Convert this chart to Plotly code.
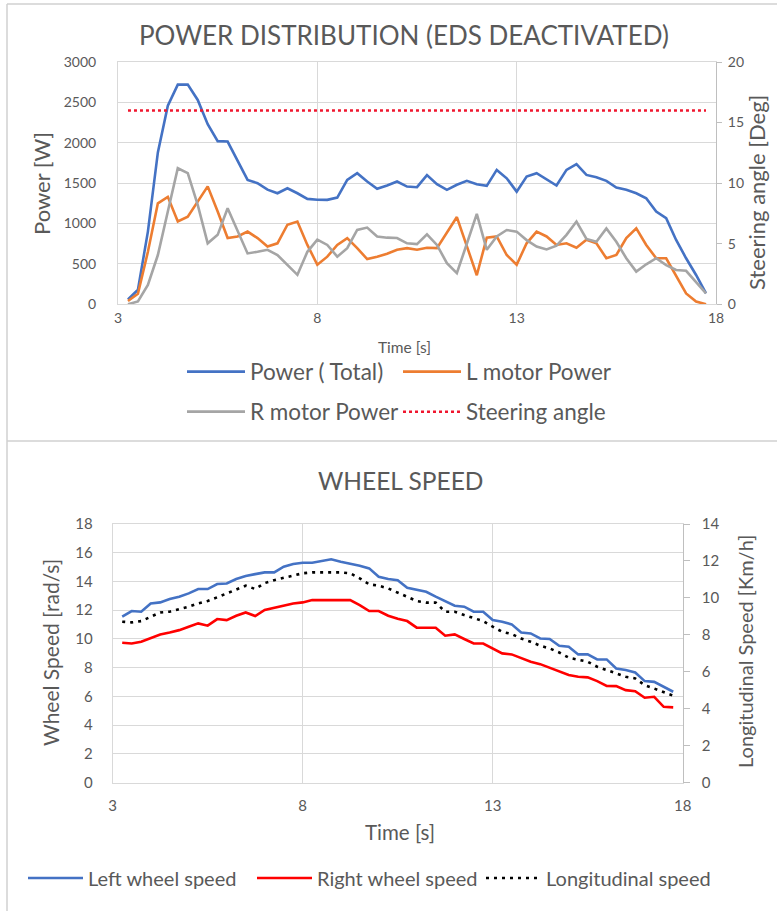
import plotly.graph_objects as go

# ---------------- data ----------------
time_s = [3.25, 3.5, 3.75, 4.0, 4.25, 4.5, 4.75, 5.0, 5.25, 5.5, 5.75, 6.0, 6.25, 6.5, 6.75, 7.0,
          7.25, 7.5, 7.75, 8.0, 8.25, 8.5, 8.75, 9.0, 9.25, 9.5, 9.75, 10.0, 10.25, 10.5, 10.75,
          11.0, 11.25, 11.5, 11.75, 12.0, 12.25, 12.5, 12.75, 13.0, 13.25, 13.5, 13.75, 14.0,
          14.25, 14.5, 14.75, 15.0, 15.25, 15.5, 15.75, 16.0, 16.25, 16.5, 16.75, 17.0, 17.25,
          17.5, 17.75]

power_total = [60, 180, 900, 1880, 2460, 2720, 2720, 2530, 2230, 2020, 2015, 1770, 1540, 1500,
               1420, 1375, 1437, 1375, 1305, 1295, 1293, 1322, 1540, 1623, 1520, 1430, 1470, 1520,
               1458, 1450, 1600, 1487, 1417, 1480, 1528, 1487, 1466, 1664, 1560, 1395, 1582, 1623,
               1549, 1470, 1664, 1735, 1602, 1574, 1528, 1446, 1417, 1375, 1313, 1148, 1066, 797,
               570, 363, 136]

l_motor_power = [40, 130, 650, 1250, 1330, 1025, 1085, 1270, 1460, 1150, 820, 840, 900, 820, 715,
                 755, 985, 1025, 735, 490, 590, 735, 820, 695, 560, 590, 625, 675, 695, 675, 700,
                 695, 880, 1080, 720, 360, 825, 840, 610, 490, 755, 900, 840, 735, 755, 700, 800,
                 755, 570, 610, 820, 940, 735, 570, 570, 345, 135, 35, 0]

r_motor_power = [0, 35, 240, 610, 1150, 1685, 1625, 1230, 755, 860, 1190, 900, 630, 650, 675, 610,
                 485, 365, 650, 800, 735, 590, 695, 920, 950, 840, 825, 820, 755, 745, 865, 735,
                 510, 385, 750, 1120, 675, 840, 920, 900, 795, 715, 680, 725, 860, 1025, 810, 775,
                 940, 775, 570, 405, 495, 570, 485, 425, 415, 280, 135]

steering_angle = [16, 16, 16, 16, 16, 16, 16, 16, 16, 16, 16, 16, 16, 16, 16, 16, 16, 16, 16, 16,
                  16, 16, 16, 16, 16, 16, 16, 16, 16, 16, 16, 16, 16, 16, 16, 16, 16, 16, 16, 16,
                  16, 16, 16, 16, 16, 16, 16, 16, 16, 16, 16, 16, 16, 16, 16, 16, 16, 16, 16]

left_wheel_speed = [11.55, 11.94, 11.89, 12.47, 12.54, 12.77, 12.94, 13.17, 13.47, 13.47, 13.82,
                    13.86, 14.17, 14.38, 14.51, 14.63, 14.63, 15.03, 15.21, 15.30, 15.30, 15.42,
                    15.54, 15.37, 15.26, 15.10, 14.91, 14.33, 14.17, 14.08, 13.56, 13.40, 13.28,
                    12.94, 12.63, 12.31, 12.24, 11.89, 11.89, 11.31, 11.19, 11.01, 10.45, 10.38,
                    10.03, 9.99, 9.52, 9.45, 8.92, 8.92, 8.57, 8.57, 7.94, 7.83, 7.66, 7.06, 7.01,
                    6.67, 6.32]

right_wheel_speed = [9.73, 9.68, 9.80, 10.03, 10.31, 10.45, 10.61, 10.84, 11.08, 10.92, 11.38,
                     11.31, 11.61, 11.84, 11.59, 12.01, 12.17, 12.29, 12.47, 12.54, 12.70, 12.70,
                     12.70, 12.70, 12.70, 12.35, 11.94, 11.94, 11.61, 11.40, 11.24, 10.78, 10.78,
                     10.78, 10.22, 10.31, 9.99, 9.68, 9.68, 9.34, 8.99, 8.92, 8.64, 8.41, 8.24,
                     7.99, 7.76, 7.48, 7.36, 7.32, 7.06, 6.73, 6.71, 6.43, 6.36, 5.90, 5.97, 5.27,
                     5.23]

longitudinal_speed = [8.71, 8.67, 8.74, 8.98, 9.21, 9.25, 9.38, 9.52, 9.70, 9.83, 10.03, 10.24,
                      10.42, 10.66, 10.48, 10.80, 10.96, 11.09, 11.23, 11.33, 11.38, 11.38, 11.38,
                      11.38, 11.33, 11.06, 10.73, 10.66, 10.51, 10.27, 10.06, 9.83, 9.74, 9.74,
                      9.25, 9.25, 9.07, 8.89, 8.74, 8.44, 8.16, 8.04, 7.80, 7.62, 7.41, 7.26, 7.04,
                      6.76, 6.67, 6.54, 6.27, 6.09, 5.87, 5.73, 5.64, 5.27, 5.09, 4.91, 4.70]

x_ticks = [3, 8, 13, 18]

# ---------------- layout helpers ----------------
W, H = 777, 911
FONT = "Lato"
TXT = "#595959"
GRID = "#d9d9d9"
AXL = "#bfbfbf"


def px(x):
    return x / W


def py(y):
    return 1 - y / H


fig = go.Figure()

# top chart
fig.add_trace(go.Scatter(x=time_s, y=power_total, name="Power ( Total)", mode="lines",
                         line=dict(color="#4472C4", width=2.6), xaxis="x", yaxis="y",
                         legend="legend"))
fig.add_trace(go.Scatter(x=time_s, y=l_motor_power, name="L motor Power", mode="lines",
                         line=dict(color="#ED7D31", width=2.6), xaxis="x", yaxis="y",
                         legend="legend"))
fig.add_trace(go.Scatter(x=time_s, y=r_motor_power, name="R motor Power", mode="lines",
                         line=dict(color="#A5A5A5", width=2.6), xaxis="x", yaxis="y",
                         legend="legend2"))
fig.add_trace(go.Scatter(x=time_s, y=steering_angle, name="Steering angle", mode="lines",
                         line=dict(color="#F0162E", width=2.5, dash="dot"), xaxis="x",
                         yaxis="y2", legend="legend2"))

# bottom chart
fig.add_trace(go.Scatter(x=time_s, y=left_wheel_speed, name="Left wheel speed", mode="lines",
                         line=dict(color="#4472C4", width=2.6), xaxis="x2", yaxis="y3",
                         legend="legend3"))
fig.add_trace(go.Scatter(x=time_s, y=right_wheel_speed, name="Right wheel speed", mode="lines",
                         line=dict(color="#FF0000", width=2.6), xaxis="x2", yaxis="y3",
                         legend="legend3"))
fig.add_trace(go.Scatter(x=time_s, y=longitudinal_speed, name="Longitudinal speed", mode="lines",
                         line=dict(color="#000000", width=2.6, dash="3px,5px"), xaxis="x2",
                         yaxis="y4", legend="legend3"))

tickfont = dict(family=FONT, size=14, color=TXT)
tickfont_b = dict(family=FONT, size=15, color=TXT)

xcommon = dict(range=[3, 18], tickvals=x_ticks, showgrid=True, gridcolor=GRID, gridwidth=1,
               showline=True, linecolor=GRID, linewidth=1, mirror=True, zeroline=False,
               ticks="", automargin=False)

fig.update_layout(
    width=W, height=H,
    margin=dict(l=0, r=0, t=0, b=0, pad=0, autoexpand=False),
    paper_bgcolor="white", plot_bgcolor="white",
    font=dict(family=FONT, color=TXT),
    xaxis=dict(domain=[px(118), px(716)], anchor="y", tickfont=tickfont,
               ticklabelstandoff=1, **xcommon),
    yaxis=dict(domain=[py(304.3), py(62)], anchor="x", range=[0, 3000], dtick=500,
               showgrid=True, gridcolor=GRID, showline=True, linecolor=GRID, mirror=True,
               zeroline=False, tickfont=tickfont, ticks="", ticklabelstandoff=18,
               automargin=False),
    yaxis2=dict(overlaying="y", anchor="x", side="right", range=[0, 20], dtick=5,
                showgrid=False, showline=True, linecolor=AXL, ticks="outside", ticklen=5,
                tickcolor=AXL, zeroline=False, tickfont=tickfont, ticklabelstandoff=3,
                automargin=False),
    xaxis2=dict(domain=[px(112.7), px(682.7)], anchor="y3", tickfont=tickfont_b,
                ticklabelstandoff=9, **xcommon),
    yaxis3=dict(domain=[py(782.5), py(524)], anchor="x2", range=[0, 18], dtick=2,
                showgrid=True, gridcolor=GRID, showline=True, linecolor=GRID, mirror=True,
                zeroline=False, tickfont=tickfont_b, ticks="", ticklabelstandoff=16,
                automargin=False),
    yaxis4=dict(overlaying="y3", anchor="x2", side="right", range=[0, 14], dtick=2,
                showgrid=False, showline=True, linecolor=AXL, ticks="outside", ticklen=6,
                tickcolor=AXL, zeroline=False, tickfont=tickfont_b, ticklabelstandoff=9,
                automargin=False),
    legend=dict(orientation="h", x=px(182), y=py(372), xanchor="left", yanchor="middle",
                font=dict(family=FONT, size=22.5, color=TXT), itemwidth=58,
                entrywidth=143, bgcolor="rgba(0,0,0,0)"),
    legend2=dict(orientation="h", x=px(182), y=py(412), xanchor="left", yanchor="middle",
                 font=dict(family=FONT, size=22.5, color=TXT), itemwidth=58,
                 entrywidth=143, bgcolor="rgba(0,0,0,0)"),
    legend3=dict(orientation="h", x=px(23), y=py(878), xanchor="left", yanchor="middle",
                 font=dict(family=FONT, size=20, color=TXT), itemwidth=55,
                 entrywidth=159, bgcolor="rgba(0,0,0,0)"),
    showlegend=True,
)

ann = [
    dict(text="POWER DISTRIBUTION (EDS DEACTIVATED)", x=px(404), y=py(35.5), size=26),
    dict(text="Power [W]", x=px(41), y=py(184), size=22, angle=-90),
    dict(text="Steering angle [Deg]", x=px(757), y=py(193), size=22, angle=-90),
    dict(text="Time [s]", x=px(405), y=py(347), size=15.5),
    dict(text="WHEEL SPEED", x=px(400), y=py(481), size=24.5),
    dict(text="Wheel Speed [rad/s]", x=px(50), y=py(653), size=21, angle=-90),
    dict(text="Longitudinal Speed [Km/h]", x=px(745), y=py(652), size=20, angle=-90),
    dict(text="Time [s]", x=px(400), y=py(832), size=20.5),
]
for a in ann:
    fig.add_annotation(text=a["text"], x=a["x"], y=a["y"], xref="paper", yref="paper",
                       xanchor="center", yanchor="middle", showarrow=False,
                       textangle=a.get("angle", 0),
                       font=dict(family=FONT, size=a["size"], color=TXT))

# chart-area frames
frame = dict(color="#d0d0d0", width=1.5)
fig.add_shape(type="line", xref="paper", yref="paper", x0=px(7), x1=px(7), y0=py(4), y1=py(911), line=frame)
fig.add_shape(type="line", xref="paper", yref="paper", x0=px(7), x1=px(777), y0=py(4), y1=py(4), line=frame)
fig.add_shape(type="line", xref="paper", yref="paper", x0=px(7), x1=px(777), y0=py(441), y1=py(441), line=frame)

fig.write_html("out.html", config={"displayModeBar": False},
               post_script="document.body.style.margin='0';document.body.style.overflow='hidden';")
